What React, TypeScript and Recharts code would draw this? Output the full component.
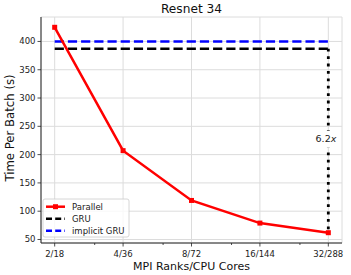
import React from 'react';
import { LineChart, Line, XAxis, YAxis, CartesianGrid, ReferenceDot } from 'recharts';

const ranks = [2, 4, 8, 16, 32];
const cores = [18, 36, 72, 144, 288];
const parallelTimes = [425, 207, 119, 79, 62];
const gruTime = 387;
const implicitGruTime = 400;
const speedupLabel = '6.2';
const speedupLabelY = 228;
const yTicks = [50, 100, 150, 200, 250, 300, 350, 400];
const minorRanks = [3, 6, 12, 24];
const seriesNames = ['Parallel', 'GRU', 'implicit GRU'];
const seriesColors = ['#ff0000', '#000000', '#0000ff'];

const FONT = 'DejaVu Sans, sans-serif';

const majorX = ranks.map((r) => Math.log2(r));
const minorX = minorRanks.map((r) => Math.log2(r));
const allX = [...majorX, ...minorX].sort((a, b) => a - b);
const xLabelMap: Record<string, string> = {};
ranks.forEach((r, i) => {
  xLabelMap[String(Math.log2(r))] = `${r}/${cores[i]}`;
});

const parallelData = ranks.map((r, i) => ({ x: Math.log2(r), y: parallelTimes[i] }));
const gruData = [
  { x: majorX[0], y: gruTime },
  { x: majorX[majorX.length - 1], y: gruTime },
];
const implicitData = [
  { x: majorX[0], y: implicitGruTime },
  { x: majorX[majorX.length - 1], y: implicitGruTime },
];
const speedupData = [
  { x: majorX[majorX.length - 1], y: gruTime },
  { x: majorX[majorX.length - 1], y: parallelTimes[parallelTimes.length - 1] },
];

const XTick = (props: any) => {
  const { x, y, payload } = props;
  const label = xLabelMap[String(payload.value)];
  const isMajor = label !== undefined;
  return (
    <g>
      <line x1={x} x2={x} y1={y} y2={y + (isMajor ? 3.5 : 2)} stroke="#222" strokeWidth={0.8} />
      {isMajor && (
        <text x={x} y={y + 13.5} textAnchor="middle" fontSize={8.5} fontFamily={FONT} fill="#222">
          {label}
        </text>
      )}
    </g>
  );
};

const YTick = (props: any) => {
  const { x, y, payload } = props;
  return (
    <g>
      <line x1={x - 3.5} x2={x} y1={y} y2={y} stroke="#222" strokeWidth={0.8} />
      <text x={x - 5.5} y={y + 3} textAnchor="end" fontSize={8.5} fontFamily={FONT} fill="#222">
        {payload.value}
      </text>
    </g>
  );
};

const SquareDot = (props: any) => {
  const { cx, cy, index } = props;
  return <rect key={`sq-${index}`} x={cx - 2.5} y={cy - 2.5} width={5} height={5} fill="#ff0000" />;
};

const SpeedupLabel = (props: any) => {
  const { viewBox } = props;
  const x = viewBox.x + viewBox.width / 2;
  const y = viewBox.y + viewBox.height / 2;
  return (
    <g>
      <rect x={x - 13} y={y - 8} width={20} height={17} fill="#ffffff" />
      <text x={x + 8} y={y + 3.4} textAnchor="end" fontSize={9.5} fontFamily={FONT} fill="#222">
        <tspan>{speedupLabel}</tspan>
        <tspan fontStyle="italic">x</tspan>
      </text>
    </g>
  );
};

const LegendBox = () => {
  const left = 43;
  const top = 199;
  const rowH = 12;
  return (
    <g>
      <rect x={left} y={top} width={86} height={38} rx={2} fill="#ffffff" fillOpacity={0.8} stroke="#cccccc" strokeWidth={0.8} />
      {seriesNames.map((name, i) => {
        const cy = top + 7.7 + i * rowH;
        return (
          <g key={name}>
            {i === 0 ? (
              <>
                <line x1={left + 3} x2={left + 22} y1={cy} y2={cy} stroke={seriesColors[i]} strokeWidth={2.5} />
                <rect x={left + 10} y={cy - 2.5} width={5} height={5} fill={seriesColors[i]} />
              </>
            ) : (
              <line x1={left + 3} x2={left + 22} y1={cy} y2={cy} stroke={seriesColors[i]} strokeWidth={2.5} strokeDasharray="6 3.2" />
            )}
            <text x={left + 29} y={cy + 3} fontSize={8.5} fontFamily={FONT} fill="#222">
              {name}
            </text>
          </g>
        );
      })}
    </g>
  );
};

export default function App() {
  return (
    <div style={{ position: 'absolute', left: 0, top: 0, width: 351, height: 275, background: '#fff' }}>
      <LineChart width={351} height={275} margin={{ top: 17, right: 9, bottom: 0, left: 0 }}>
        <XAxis xAxisId="grid" type="number" dataKey="x" domain={[0.8, 5.2]} ticks={majorX} hide allowDataOverflow />
        <CartesianGrid xAxisId="grid" stroke="#dcdcdc" strokeWidth={1} />
        <XAxis
          type="number"
          dataKey="x"
          domain={[0.8, 5.2]}
          ticks={allX}
          interval={0}
          tick={<XTick />}
          tickLine={false}
          tickSize={0}
          tickMargin={0}
          axisLine={{ stroke: '#222', strokeWidth: 1 }}
          allowDataOverflow
          height={32}
        />
        <XAxis xAxisId="top" orientation="top" type="number" dataKey="x" domain={[0.8, 5.2]} tick={false} tickLine={false} height={0} axisLine={{ stroke: '#222', strokeWidth: 1 }} />
        <YAxis
          type="number"
          domain={[43.8, 443.2]}
          ticks={yTicks}
          interval={0}
          tick={<YTick />}
          tickLine={false}
          tickSize={0}
          tickMargin={0}
          width={41}
          axisLine={{ stroke: '#222', strokeWidth: 1 }}
          allowDataOverflow
        />
        <YAxis yAxisId="right" orientation="right" type="number" domain={[43.8, 443.2]} tick={false} tickLine={false} width={0} axisLine={{ stroke: '#222', strokeWidth: 1 }} />
        <Line data={gruData} dataKey="y" name="GRU" stroke="#000000" strokeWidth={2.5} strokeDasharray="9.2 4" dot={false} isAnimationActive={false} />
        <Line data={implicitData} dataKey="y" name="implicit GRU" stroke="#0000ff" strokeWidth={2.5} strokeDasharray="9.2 4" dot={false} isAnimationActive={false} />
        <Line data={speedupData} dataKey="y" name="speedup" stroke="#000000" strokeWidth={2.8} strokeDasharray="2.8 4.6" dot={false} isAnimationActive={false} />
        <Line data={parallelData} dataKey="y" name="Parallel" stroke="#ff0000" strokeWidth={2.5} dot={<SquareDot />} isAnimationActive={false} />
        <ReferenceDot x={majorX[majorX.length - 1]} y={speedupLabelY} r={0} stroke="none" fill="none" label={<SpeedupLabel />} />
        <LegendBox />
        <text x={191.5} y={13.3} textAnchor="middle" fontSize={12.2} fontFamily={FONT} fill="#111">
          Resnet 34
        </text>
        <text x={191.5} y={270} textAnchor="middle" fontSize={11} fontFamily={FONT} fill="#111">
          MPI Ranks/CPU Cores
        </text>
        <text x={14} y={128} textAnchor="middle" fontSize={11.7} fontFamily={FONT} fill="#111" transform="rotate(-90 14 128)">
          Time Per Batch (s)
        </text>
      </LineChart>
    </div>
  );
}
